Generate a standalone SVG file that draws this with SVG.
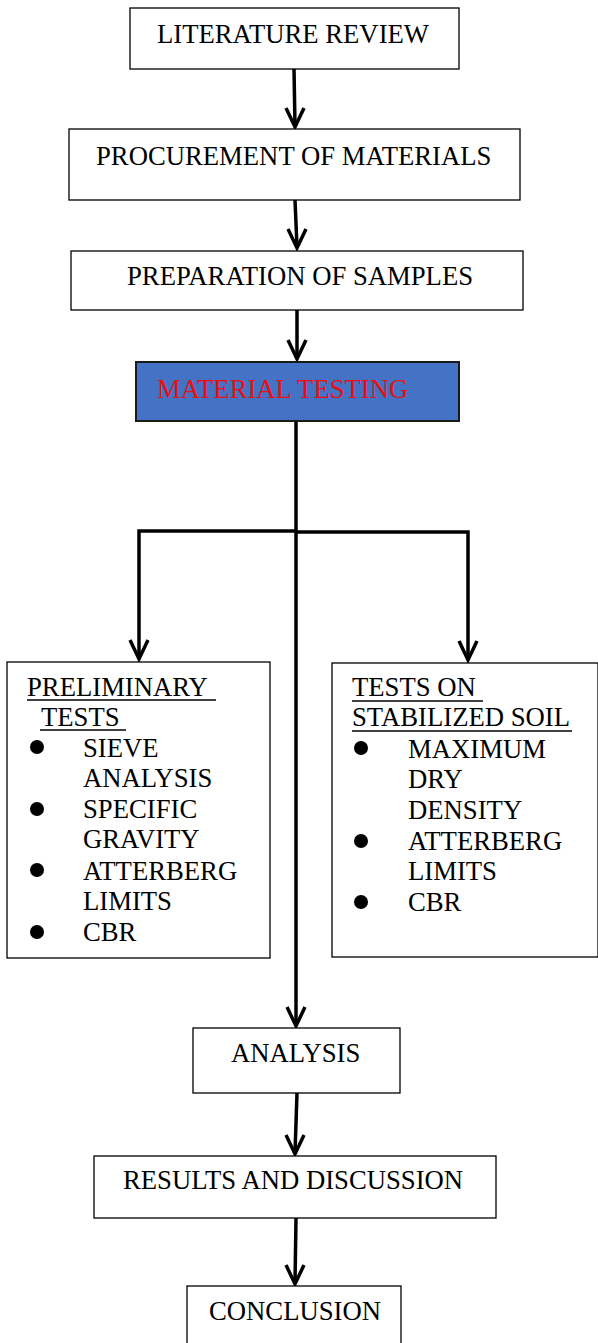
<svg xmlns="http://www.w3.org/2000/svg" width="598" height="1343" viewBox="0 0 598 1343">
<style>
.box{fill:#fff;stroke:#000;stroke-width:1.3}
.t{font-family:"Liberation Serif","Times New Roman",serif;font-size:26.7px;fill:#000}
.conn{fill:none;stroke:#000;stroke-width:3.5;stroke-linejoin:miter}
.head{fill:none;stroke:#000;stroke-width:3.5;stroke-linecap:butt;stroke-linejoin:miter}
.ul{stroke:#000;stroke-width:1.6}
.dot{fill:#000}
</style>
<rect width="598" height="1343" fill="#fff"/>
<g id="connectors">
<path class="conn" d="M294,69 L295,126"/>
<path class="head" d="M286,108 L295,127 L304,108"/>
<path class="conn" d="M295,200 L297,247"/>
<path class="head" d="M288,229 L297,248 L306,229"/>
<path class="conn" d="M297,310 L297,358"/>
<path class="head" d="M288,340 L297,359 L306,340"/>
<path class="conn" d="M296,421 L296,1025"/>
<path class="head" d="M287,1007 L296,1026 L305,1007"/>
<path class="conn" d="M296,531 H139 V658"/>
<path class="head" d="M130,640 L139,659 L148,640"/>
<path class="conn" d="M296,532 H468 V659"/>
<path class="head" d="M459,641 L468,660 L477,641"/>
<path class="conn" d="M297,1093 L295,1153"/>
<path class="head" d="M286,1135 L295,1154 L304,1135"/>
<path class="conn" d="M296,1218 L295,1283"/>
<path class="head" d="M286,1265 L295,1284 L304,1265"/>
</g>
<g id="literature-review">
<rect class="box" x="130" y="8" width="329" height="61"/>
<text class="t" x="157" y="43">LITERATURE REVIEW</text>
</g>
<g id="procurement">
<rect class="box" x="69" y="129" width="451" height="71"/>
<text class="t" x="96" y="165">PROCUREMENT OF MATERIALS</text>
</g>
<g id="preparation">
<rect class="box" x="71" y="251" width="452" height="59"/>
<text class="t" x="127" y="285">PREPARATION OF SAMPLES</text>
</g>
<g id="material-testing">
<rect x="136" y="362" width="323" height="59" fill="#4472C4" stroke="#1a1a1a" stroke-width="2"/>
<text class="t" x="157" y="398" style="fill:#E81010">MATERIAL TESTING</text>
</g>
<g id="preliminary-tests">
<rect class="box" x="7" y="662" width="263" height="296"/>
<text class="t" x="27" y="696">PRELIMINARY</text>
<line class="ul" x1="27" y1="700" x2="216" y2="700"/>
<text class="t" x="41" y="726">TESTS</text>
<line class="ul" x1="40" y1="730" x2="126" y2="730"/>
<circle class="dot" cx="37" cy="747" r="7"/>
<text class="t" x="83" y="757">SIEVE</text>
<text class="t" x="83" y="787">ANALYSIS</text>
<circle class="dot" cx="37" cy="809" r="7"/>
<text class="t" x="83" y="818">SPECIFIC</text>
<text class="t" x="83" y="848">GRAVITY</text>
<circle class="dot" cx="37" cy="870" r="7"/>
<text class="t" x="83" y="880">ATTERBERG</text>
<text class="t" x="83" y="910">LIMITS</text>
<circle class="dot" cx="37" cy="932" r="7"/>
<text class="t" x="83" y="941">CBR</text>
</g>
<g id="tests-stabilized-soil">
<rect class="box" x="332" y="663" width="266" height="294"/>
<text class="t" x="352" y="696">TESTS ON</text>
<line class="ul" x1="352" y1="701" x2="483" y2="701"/>
<text class="t" x="352" y="726">STABILIZED SOIL</text>
<line class="ul" x1="352" y1="731" x2="572" y2="731"/>
<circle class="dot" cx="361" cy="748" r="7"/>
<text class="t" x="408" y="758">MAXIMUM</text>
<text class="t" x="408" y="788">DRY</text>
<text class="t" x="408" y="819">DENSITY</text>
<circle class="dot" cx="361" cy="841" r="7"/>
<text class="t" x="408" y="850">ATTERBERG</text>
<text class="t" x="408" y="880">LIMITS</text>
<circle class="dot" cx="361" cy="902" r="7"/>
<text class="t" x="408" y="911">CBR</text>
</g>
<g id="analysis">
<rect class="box" x="193" y="1028" width="207" height="65"/>
<text class="t" x="231" y="1062">ANALYSIS</text>
</g>
<g id="results">
<rect class="box" x="94" y="1156" width="402" height="62"/>
<text class="t" x="123" y="1189">RESULTS AND DISCUSSION</text>
</g>
<g id="conclusion">
<rect class="box" x="187" y="1286" width="214" height="70"/>
<text class="t" x="209" y="1320">CONCLUSION</text>
</g>
</svg>
